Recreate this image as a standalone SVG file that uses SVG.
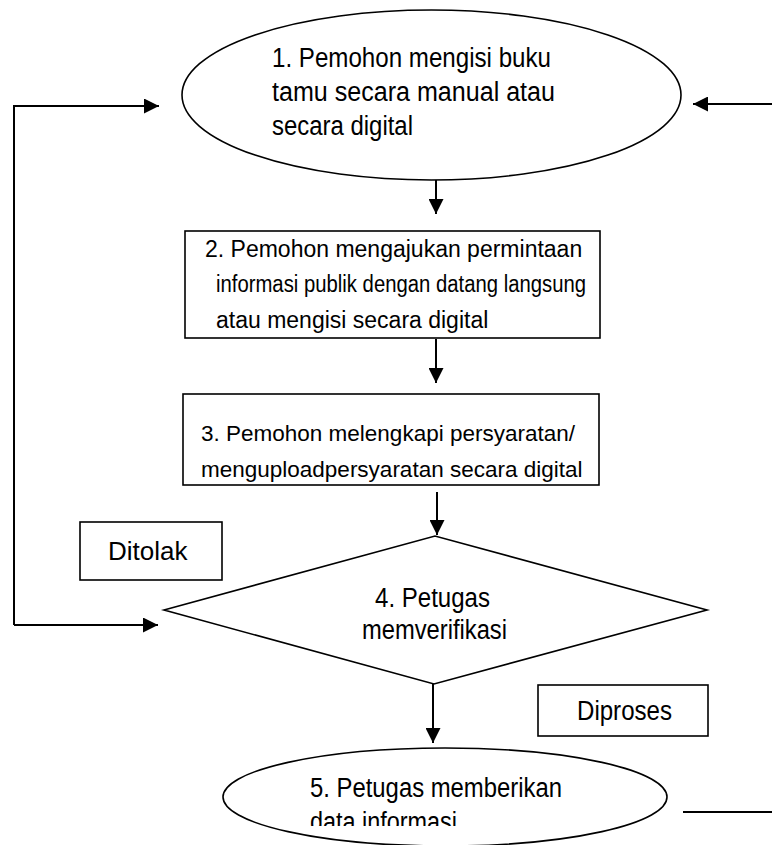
<svg xmlns="http://www.w3.org/2000/svg" width="772" height="845" viewBox="0 0 772 845">
<style>
.shape{fill:#fff;stroke:#000;stroke-width:1.6}
.conn{fill:none;stroke:#000;stroke-width:2}
text{font-family:"Liberation Sans",Arial,sans-serif;font-size:22.5px;fill:#000}
.nar{font-size:27px}
.b2{font-size:23px}
</style>
<defs>
<marker id="ah" viewBox="0 0 10 10" refX="10" refY="5" markerWidth="7.5" markerHeight="7.5" markerUnits="strokeWidth" orient="auto">
<path d="M0,0 L10,5 L0,10 Z" fill="#000"/>
</marker>
<clipPath id="clip5"><rect x="0" y="0" width="772" height="826"/></clipPath>
</defs>
<rect width="772" height="845" fill="#fff"/>
<g id="n1">
<ellipse class="shape" cx="431.5" cy="95" rx="249.5" ry="85"/>
<text class="nar" x="272" y="67" textLength="279" lengthAdjust="spacingAndGlyphs">1. Pemohon mengisi buku</text>
<text class="nar" x="272" y="101" textLength="283" lengthAdjust="spacingAndGlyphs">tamu secara manual atau</text>
<text class="nar" x="272" y="135" textLength="141" lengthAdjust="spacingAndGlyphs">secara digital</text>
</g>
<g id="n2">
<rect class="shape" x="185" y="231" width="415" height="107"/>
<text class="b2" x="205" y="257">2. Pemohon mengajukan permintaan</text>
<text class="b2" x="216" y="292" textLength="370" lengthAdjust="spacingAndGlyphs">informasi publik dengan datang langsung</text>
<text class="b2" x="216" y="328">atau mengisi secara digital</text>
</g>
<g id="n3">
<rect class="shape" x="183" y="394" width="416" height="91"/>
<text x="201" y="441">3. Pemohon melengkapi persyaratan/</text>
<text x="201" y="477">menguploadpersyaratan secara digital</text>
</g>
<g id="n4">
<polygon class="shape" points="164,610 435,536 707,610 434,684"/>
<text class="nar" x="375" y="607" textLength="115" lengthAdjust="spacingAndGlyphs">4. Petugas</text>
<text class="nar" x="362" y="639" textLength="145" lengthAdjust="spacingAndGlyphs">memverifikasi</text>
</g>
<g id="ditolak">
<rect class="shape" x="80" y="522" width="142" height="58" stroke-width="1.2"/>
<text x="108" y="560" style="font-size:26px">Ditolak</text>
</g>
<g id="diproses">
<rect class="shape" x="538" y="685" width="170" height="51"/>
<text class="nar" x="577" y="720" textLength="95" lengthAdjust="spacingAndGlyphs">Diproses</text>
</g>
<g id="n5">
<ellipse class="shape" cx="445" cy="797" rx="222" ry="49"/>
<text class="nar" x="310" y="797" textLength="252" lengthAdjust="spacingAndGlyphs">5. Petugas memberikan</text>
<text class="nar" x="310" y="831" textLength="147" lengthAdjust="spacingAndGlyphs" clip-path="url(#clip5)">data informasi</text>
</g>
<g id="connectors">
<path class="conn" d="M436,180 L436,214" marker-end="url(#ah)"/>
<path class="conn" d="M436,339 L436,383" marker-end="url(#ah)"/>
<path class="conn" d="M437,492 L437,535" marker-end="url(#ah)"/>
<path class="conn" d="M433,684 L433,743" marker-end="url(#ah)"/>
<path class="conn" d="M14,625 L14,106 L159,106" marker-end="url(#ah)"/>
<path class="conn" d="M14,625 L158,625" marker-end="url(#ah)"/>
<path class="conn" d="M772,104 L693,104" marker-end="url(#ah)"/>
<path class="conn" d="M683,812 L772,812"/>
</g>
</svg>
